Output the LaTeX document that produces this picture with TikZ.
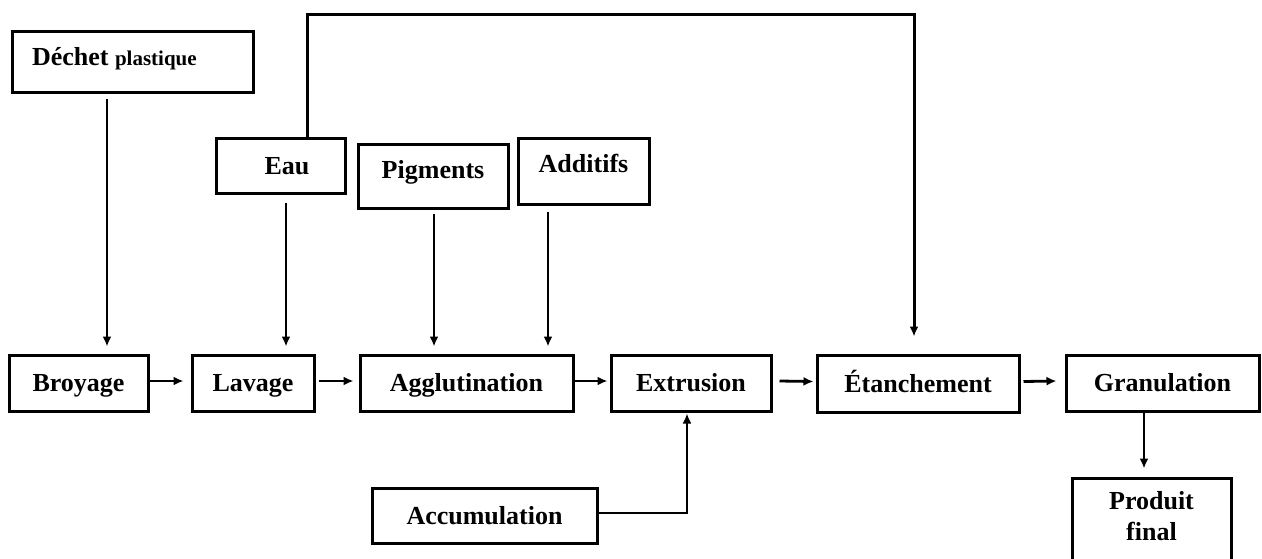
\documentclass[tikz,border=0pt]{standalone}
\usepackage{fontspec}
\setmainfont{Liberation Serif}
\usetikzlibrary{arrows.meta}
\begin{document}
\begin{tikzpicture}[x=1pt,y=-1pt,
  box/.style={draw, line width=3pt, rectangle, inner sep=0pt,
    font=\fontsize{26}{31}\selectfont\bfseries,
    text height=20pt, text depth=3pt, align=center},
  arr/.style={line width=2.8pt, -{Latex[length=10pt,width=9pt]}},
  fbline/.style={line width=3pt, -{Latex[length=10pt,width=9pt]}}]
\useasboundingbox (0,0) rectangle (1262,558);

% top boxes
\node[box, minimum width=241pt, minimum height=61pt, text depth=13pt] (dechet) at (132.5,61.5)
  {\makebox[201pt][l]{Déchet {\fontsize{21}{25}\selectfont plastique}}};
\node[box, minimum width=129pt, minimum height=55pt] (eau) at (280.5,165.5) {\hspace*{13pt}Eau};
\node[box, minimum width=150pt, minimum height=64pt, text depth=16pt] (pig) at (433,176) {Pigments};
\node[box, minimum width=131pt, minimum height=66pt, text depth=18pt] (add) at (583.5,171) {Additifs};

% main row
\node[box, minimum width=139pt, minimum height=56pt] (broy) at (78.5,383) {Broyage};
\node[box, minimum width=122pt, minimum height=56pt] (lav) at (253,383) {Lavage};
\node[box, minimum width=213pt, minimum height=56pt] (agg) at (466.5,383) {Agglutination};
\node[box, minimum width=160pt, minimum height=56pt] (ext) at (691,383) {Extrusion};
\node[box, minimum width=202pt, minimum height=57pt] (eta) at (918,383.5) {Étanchement};
\node[box, minimum width=193pt, minimum height=56pt] (gran) at (1162.5,383) {Granulation};

% bottom boxes
\node[box, minimum width=225pt, minimum height=55pt] (acc) at (484.5,515.5) {Accumulation};
\node[box, minimum width=159pt, minimum height=122pt, text height=51pt, text depth=49pt] (prod) at (1151.5,539) {Produit\\final};

% vertical inputs
\draw[arr] ([xshift=-25.5pt,yshift=-5pt]dechet.south) -- ([xshift=28.5pt,yshift=7pt]broy.north);
\draw[arr] ([xshift=5.5pt,yshift=-8pt]eau.south) -- ([xshift=33pt,yshift=7pt]lav.north);
\draw[arr] ([xshift=1pt,yshift=-4pt]pig.south) -- ([xshift=-32.5pt,yshift=7pt]agg.north);
\draw[arr] ([xshift=-35.5pt,yshift=-6pt]add.south) -- ([xshift=81.5pt,yshift=7pt]agg.north);

% main flow
\draw[arr] ([yshift=2pt]broy.east) -- ([xshift=-7pt,yshift=2pt]lav.west);
\draw[arr] ([xshift=3pt,yshift=2pt]lav.east) -- ([xshift=-5pt,yshift=2pt]agg.west);
\draw[arr] ([yshift=2pt]agg.east) -- ([xshift=-2pt,yshift=2pt]ext.west);
\draw[arr] ([xshift=7pt,yshift=2pt]ext.east) -- ([xshift=-2pt,yshift=2pt]eta.west);
\draw[arr] ([xshift=3pt,yshift=2pt]eta.east) -- ([xshift=-8pt,yshift=2pt]gran.west);
\draw[arr] ([xshift=-18.5pt]gran.south) -- ([xshift=-7.5pt,yshift=8pt]prod.north);

% accumulation to extrusion
\draw[arr] ([yshift=2.5pt]acc.east) -| ([xshift=-4pt,yshift=-1pt]ext.south);

% feedback from Eau to Etanchement
\coordinate (fb) at (610,14);
\draw[fbline] ([xshift=26.5pt]eau.north) |- (fb) -| ([xshift=-4pt,yshift=17pt]eta.north);
\end{tikzpicture}
\end{document}
